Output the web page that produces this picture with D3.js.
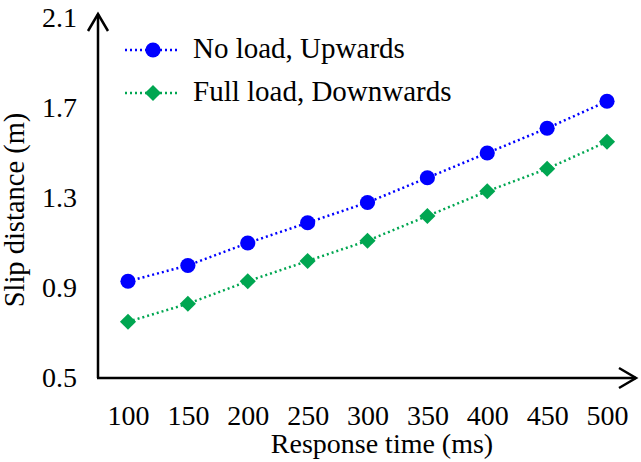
<!DOCTYPE html>
<html><head><meta charset="utf-8">
<script src="https://cdn.jsdelivr.net/npm/d3@7"></script>
<style>body{margin:0;background:#fff}text{font-family:"Liberation Serif","Times New Roman",serif;fill:#000}</style>
</head><body><svg id="c" width="641" height="462"></svg>
<script>
const responseTimes = [100,150,200,250,300,350,400,450,500];
const noLoadUp = [0.93,1.00,1.10,1.19,1.28,1.39,1.50,1.61,1.73];
const fullLoadDown = [0.75,0.83,0.93,1.02,1.11,1.22,1.33,1.43,1.55];
const yTicks = [0.5,0.9,1.3,1.7,2.1];
const seriesNames = ["No load, Upwards","Full load, Downwards"];
const seriesColors = ["#0000FF","#00A651"];

const svg = d3.select("#c");
const x = d3.scaleLinear().domain([100,500]).range([128,607]);
const y = d3.scaleLinear().domain([0.5,2.1]).range([378,18]);
const x0 = 98, y0 = 378;
const FS = 28;

svg.append("line").attr("x1",x0).attr("y1",y0).attr("x2",x0).attr("y2",14).attr("stroke","#000").attr("stroke-width",2.5);
svg.append("polyline").attr("points",`${x0-10},31 ${x0},14 ${x0+10},31`).attr("fill","none").attr("stroke","#000").attr("stroke-width",2.5);
svg.append("line").attr("x1",x0-1).attr("y1",y0).attr("x2",636).attr("y2",y0).attr("stroke","#000").attr("stroke-width",2.5);
svg.append("polyline").attr("points",`619,368 636,${y0} 619,388`).attr("fill","none").attr("stroke","#000").attr("stroke-width",2.5);

const yAxis = d3.axisLeft(y).tickValues(yTicks).tickFormat(d3.format(".1f")).tickSize(0).tickPadding(21);
const gy = svg.append("g").attr("transform",`translate(${x0},0)`).call(yAxis);
gy.select(".domain").remove();
gy.attr("font-size",FS).attr("font-family","Liberation Serif");
gy.selectAll("text").attr("font-size",FS).attr("fill","#000");

const xAxis = d3.axisBottom(x).tickValues(responseTimes).tickSize(0).tickPadding(27);
const gx = svg.append("g").attr("transform",`translate(0,${y0})`).call(xAxis);
gx.select(".domain").remove();
gx.attr("font-size",FS).attr("font-family","Liberation Serif");
gx.selectAll("text").attr("font-size",FS).attr("fill","#000");

svg.append("text").attr("x",382).attr("y",453).attr("text-anchor","middle").attr("font-size",FS).text("Response time (ms)");
svg.append("text").attr("transform","translate(24,210) rotate(-90)").attr("text-anchor","middle").attr("font-size",FS+0.5).text("Slip distance (m)");

const line = d3.line().x((d,i)=>x(responseTimes[i])).y(d=>y(d));
const allSeries = [noLoadUp, fullLoadDown];
const diamondPath = d3.symbol().type(d3.symbolSquare).size(130);

allSeries.forEach((s,k)=>{
  svg.append("path").datum(s).attr("d",line).attr("fill","none").attr("stroke",seriesColors[k]).attr("stroke-width",2.5).attr("stroke-dasharray","2,3");
  const g = svg.append("g");
  if(k===0){
    g.selectAll("circle").data(s).join("circle").attr("cx",(d,i)=>x(responseTimes[i])).attr("cy",d=>y(d)).attr("r",7.6).attr("fill",seriesColors[k]);
  } else {
    g.selectAll("path").data(s).join("path").attr("d",diamondPath).attr("transform",(d,i)=>`translate(${x(responseTimes[i])},${y(d)}) rotate(45)`).attr("fill",seriesColors[k]);
  }
});

const legY = [50,93];
seriesNames.forEach((n,k)=>{
  svg.append("line").attr("x1",125).attr("x2",178).attr("y1",legY[k]).attr("y2",legY[k]).attr("stroke",seriesColors[k]).attr("stroke-width",2.5).attr("stroke-dasharray","2,3");
  if(k===0) svg.append("circle").attr("cx",153).attr("cy",legY[k]).attr("r",7.6).attr("fill",seriesColors[k]);
  else svg.append("path").attr("d",diamondPath).attr("transform",`translate(153,${legY[k]}) rotate(45)`).attr("fill",seriesColors[k]);
  svg.append("text").attr("x",193).attr("y",legY[k]+8).attr("font-size",29).text(n);
});
</script></body></html>
